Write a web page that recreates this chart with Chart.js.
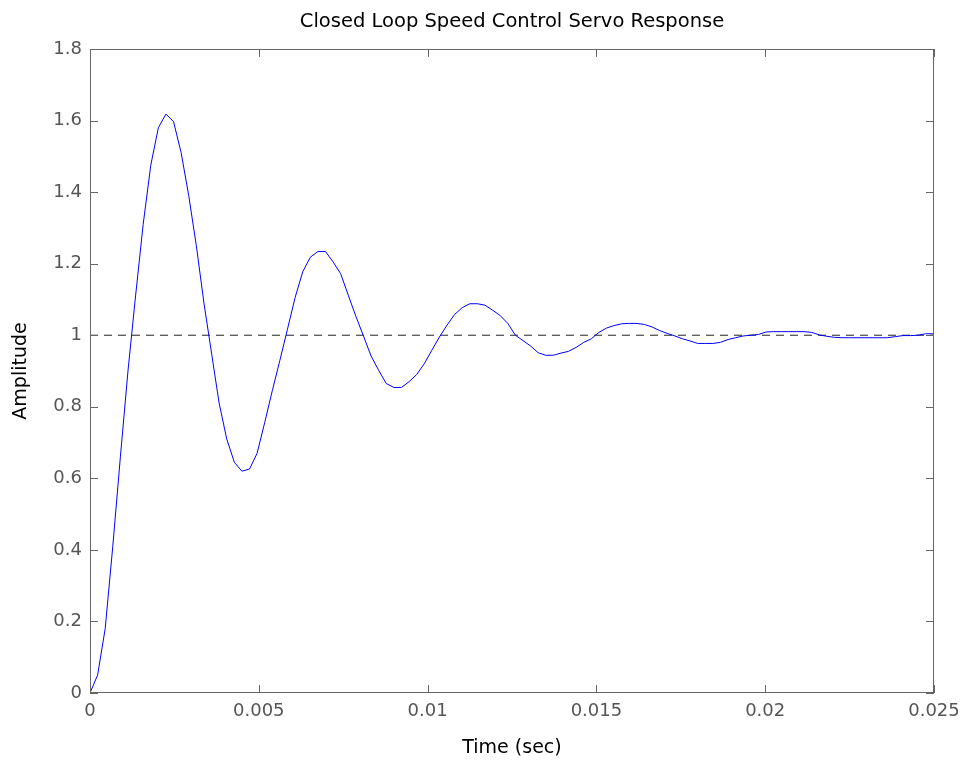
<!DOCTYPE html>
<html>
<head>
<meta charset="utf-8">
<title>Closed Loop Speed Control Servo Response</title>
<script src="https://cdn.jsdelivr.net/npm/chart.js@4/dist/chart.umd.min.js"></script>
<style>
  html, body { margin: 0; padding: 0; background: #fff; }
  canvas { display: block; }
</style>
</head>
<body>
<canvas id="servoChart" width="965" height="763"></canvas>
<script>
// --- Data ---
const chartTitle = 'Closed Loop Speed Control Servo Response';
const xAxisTitle = 'Time (sec)';
const yAxisTitle = 'Amplitude';

const times = [
  0, 0.000225, 0.00045, 0.000675, 0.0009, 0.001125, 0.00135, 0.001575, 0.0018, 0.002025,
  0.00225, 0.002475, 0.0027, 0.002925, 0.00315, 0.003375, 0.0036, 0.003825, 0.00405, 0.004275,
  0.0045, 0.004725, 0.00495, 0.005175, 0.0054, 0.005625, 0.00585, 0.006075, 0.0063, 0.006525,
  0.00675, 0.006975, 0.0072, 0.007425, 0.00765, 0.007875, 0.0081, 0.008325, 0.00855, 0.008775,
  0.009, 0.009225, 0.00945, 0.009675, 0.0099, 0.010125, 0.01035, 0.010575, 0.0108, 0.011025,
  0.01125, 0.011475, 0.0117, 0.011925, 0.01215, 0.012375, 0.0126, 0.012825, 0.01305, 0.013275,
  0.0135, 0.013725, 0.01395, 0.014175, 0.0144, 0.014625, 0.01485, 0.015075, 0.0153, 0.015525,
  0.01575, 0.015975, 0.0162, 0.016425, 0.01665, 0.016875, 0.0171, 0.017325, 0.01755, 0.017775,
  0.018, 0.018225, 0.01845, 0.018675, 0.0189, 0.019125, 0.01935, 0.019575, 0.0198, 0.020025,
  0.02025, 0.020475, 0.0207, 0.020925, 0.02115, 0.021375, 0.0216, 0.021825, 0.02205, 0.022275,
  0.0225, 0.022725, 0.02295, 0.023175, 0.0234, 0.023625, 0.02385, 0.024075, 0.0243, 0.024525,
  0.02475, 0.024975
];

const amplitude = [
  0, 0.05, 0.18, 0.41, 0.66, 0.90, 1.11, 1.31, 1.475, 1.58,
  1.618, 1.597, 1.51, 1.39, 1.25, 1.09, 0.95, 0.81, 0.71, 0.645,
  0.620, 0.626, 0.67, 0.756, 0.845, 0.93, 1.017, 1.105, 1.177, 1.218,
  1.234, 1.234, 1.205, 1.172, 1.112, 1.053, 0.998, 0.942, 0.902, 0.865,
  0.854, 0.854, 0.870, 0.890, 0.920, 0.958, 0.995, 1.028, 1.058, 1.077,
  1.088, 1.088, 1.084, 1.070, 1.055, 1.033, 1.0, 0.985, 0.970, 0.951,
  0.944, 0.944, 0.950, 0.955, 0.966, 0.980, 0.990, 1.008, 1.020, 1.027,
  1.032, 1.033, 1.033, 1.030, 1.023, 1.013, 1.005, 0.998, 0.990, 0.984,
  0.977, 0.977, 0.977, 0.980, 0.988, 0.993, 0.998, 1.0, 1.002, 1.009,
  1.010, 1.010, 1.010, 1.010, 1.010, 1.008, 1.001, 0.997, 0.994, 0.993,
  0.993, 0.993, 0.993, 0.993, 0.993, 0.993, 0.996, 0.999, 0.999, 1.0,
  1.004, 1.004
];

const steadyState = 1;

const xTicks = [0, 0.005, 0.01, 0.015, 0.02, 0.025];
const xTickLabels = ['0', '0.005', '0.01', '0.015', '0.02', '0.025'];
const yTicks = [0, 0.2, 0.4, 0.6, 0.8, 1, 1.2, 1.4, 1.6, 1.8];
const yTickLabels = ['0', '0.2', '0.4', '0.6', '0.8', '1', '1.2', '1.4', '1.6', '1.8'];

// --- Look ---
const FONT = 'DejaVu Sans';
const AXIS_GREY = '#666666';
const TICK_LEN = 8;

// --- Box, inward ticks and title (MATLAB style) ---
const matlabBox = {
  id: 'matlabBox',
  afterDraw(chart) {
    const { ctx, chartArea: a, scales: { x, y } } = chart;
    ctx.save();
    ctx.strokeStyle = AXIS_GREY;
    ctx.lineWidth = 1;
    ctx.strokeRect(a.left + 0.5, a.top + 0.5, a.right - a.left - 1, a.bottom - a.top - 1);

    ctx.beginPath();
    xTicks.forEach(v => {
      const px = Math.round(x.getPixelForValue(v)) + 0.5;
      ctx.moveTo(px, a.bottom);
      ctx.lineTo(px, a.bottom - TICK_LEN);
      ctx.moveTo(px, a.top);
      ctx.lineTo(px, a.top + TICK_LEN);
    });
    yTicks.forEach(v => {
      const py = Math.round(y.getPixelForValue(v)) + 0.5;
      ctx.moveTo(a.left, py);
      ctx.lineTo(a.left + TICK_LEN, py);
      ctx.moveTo(a.right, py);
      ctx.lineTo(a.right - TICK_LEN, py);
    });
    ctx.stroke();

    // title centred over the axes
    ctx.fillStyle = '#000';
    ctx.font = `19.5px "${FONT}"`;
    ctx.textAlign = 'center';
    ctx.textBaseline = 'middle';
    ctx.fillText(chartTitle, (a.left + a.right) / 2, 22);
    ctx.restore();
  }
};

// --- Chart ---
const ctx = document.getElementById('servoChart').getContext('2d');
const chart = new Chart(ctx, {
  type: 'line',
  data: {
    datasets: [
      {
        label: 'Response',
        data: times.map((t, i) => ({ x: t, y: amplitude[i] })),
        borderColor: '#0000ff',
        borderWidth: 1,
        pointRadius: 0,
        tension: 0,
        fill: false,
        order: 1
      },
      {
        label: 'Steady state',
        data: [
          { x: xTicks[0], y: steadyState },
          { x: xTicks[xTicks.length - 1], y: steadyState }
        ],
        borderColor: '#222222',
        borderWidth: 1,
        borderDash: [8, 6],
        pointRadius: 0,
        fill: false,
        order: 2
      }
    ]
  },
  options: {
    responsive: false,
    devicePixelRatio: 1,
    animation: false,
    layout: { padding: { top: 49, right: 31, left: 0, bottom: 0 } },
    plugins: {
      legend: { display: false },
      tooltip: { enabled: false },
      title: { display: false }
    },
    scales: {
      x: {
        type: 'linear',
        min: xTicks[0],
        max: xTicks[xTicks.length - 1],
        afterBuildTicks: scale => { scale.ticks = xTicks.map(v => ({ value: v })); },
        afterFit: scale => {
          scale.height = 70;
          scale.paddingLeft = 0;
          scale.paddingRight = 0;
        },
        grid: { display: false, drawTicks: false },
        border: { display: false },
        ticks: {
          padding: 8,
          maxRotation: 0,
          autoSkip: false,
          color: '#555555',
          font: { family: FONT, size: 18 },
          callback: (v, i) => xTickLabels[i]
        },
        title: {
          display: true,
          text: xAxisTitle,
          color: '#000',
          font: { family: FONT, size: 19 },
          padding: { top: 0, bottom: 4 }
        }
      },
      y: {
        type: 'linear',
        min: yTicks[0],
        max: yTicks[yTicks.length - 1],
        afterBuildTicks: scale => { scale.ticks = yTicks.map(v => ({ value: v })); },
        afterFit: scale => {
          scale.width = 90;
          scale.paddingTop = 0;
          scale.paddingBottom = 0;
        },
        grid: { display: false, drawTicks: false },
        border: { display: false },
        ticks: {
          padding: 8,
          autoSkip: false,
          color: '#555555',
          font: { family: FONT, size: 18 },
          callback: (v, i) => yTickLabels[i]
        },
        title: {
          display: true,
          text: yAxisTitle,
          color: '#000',
          font: { family: FONT, size: 19 },
          padding: { top: 10, bottom: 0 }
        }
      }
    }
  },
  plugins: [matlabBox]
});
</script>
</body>
</html>
